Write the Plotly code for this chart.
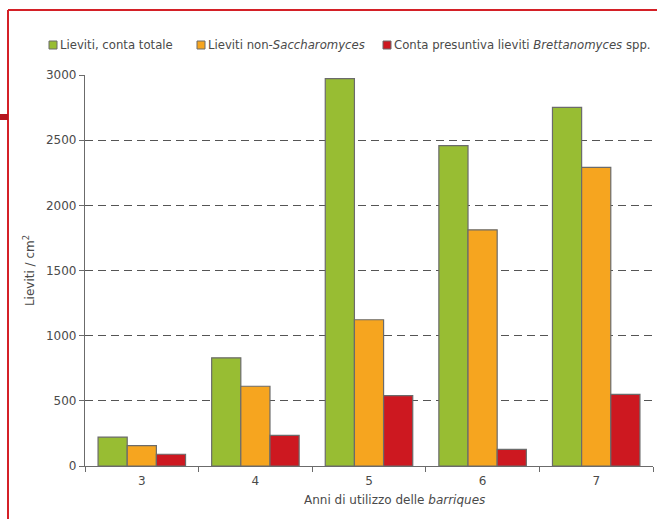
import plotly.graph_objects as go

categories = ["3", "4", "5", "6", "7"]
series_names = [
    "Lieviti, conta totale",
    "Lieviti non-<i>Saccharomyces</i>",
    "Conta presuntiva lieviti <i>Brettanomyces</i> spp.",
]
totale = [222, 830, 2972, 2458, 2752]
non_sacch = [157, 612, 1122, 1812, 2292]
brett = [90, 235, 540, 128, 550]
colors = ["#98BD33", "#F6A51F", "#CD1820"]
y_ticks = [0, 500, 1000, 1500, 2000, 2500, 3000]
x_title = "Anni di utilizzo delle <i>barriques</i>"
y_title = "Lieviti / cm<sup>2</sup>"

FONT = "DejaVu Sans, sans-serif"
FS = 12
LEG_FS = 11.7
TXT = "#4a4a4a"

fig = go.Figure()
for name, vals, col in zip(series_names, [totale, non_sacch, brett], colors):
    fig.add_trace(go.Bar(
        x=categories, y=vals, name=name,
        marker=dict(color=col, line=dict(color="#6b6b6b", width=1.2)),
        showlegend=False,
    ))

W, H = 657, 519
ml, mr, mt, mb = 85, 4, 75, 53
pw = W - ml - mr
ph = H - mt - mb

def px_x(x):
    return (x - ml) / pw

def px_y(y):
    return (H - mb - y) / ph

shapes = []
annotations = []
# red frame
shapes.append(dict(type="line", xref="paper", yref="paper",
                   x0=px_x(8), x1=px_x(8), y0=px_y(10), y1=px_y(560),
                   line=dict(color="#D42027", width=2)))
shapes.append(dict(type="line", xref="paper", yref="paper",
                   x0=px_x(8), x1=px_x(700), y0=px_y(10), y1=px_y(10),
                   line=dict(color="#D42027", width=2)))
shapes.append(dict(type="rect", xref="paper", yref="paper",
                   x0=px_x(0), x1=px_x(8), y0=px_y(114), y1=px_y(120),
                   fillcolor="#B5161E", line=dict(width=0)))

# manual legend
leg_x = [49, 197, 383]
for lx, name, col in zip(leg_x, series_names, colors):
    shapes.append(dict(type="rect", xref="paper", yref="paper",
                       x0=px_x(lx), x1=px_x(lx + 8), y0=px_y(41), y1=px_y(49),
                       fillcolor=col, line=dict(color="#6b6b6b", width=1)))
    annotations.append(dict(xref="paper", yref="paper", x=px_x(lx + 8.5), y=px_y(45),
                            text=name, showarrow=False, xanchor="left", yanchor="middle",
                            font=dict(family=FONT, size=LEG_FS, color=TXT)))

# x-axis title (slightly right of centre, as in the reference)
annotations.append(dict(xref="paper", yref="paper", x=px_x(394), y=px_y(500),
                        text=x_title, showarrow=False, xanchor="center", yanchor="middle",
                        font=dict(family=FONT, size=FS, color=TXT)))

fig.update_layout(
    width=W, height=H,
    margin=dict(l=ml, r=mr, t=mt, b=mb),
    paper_bgcolor="white", plot_bgcolor="white",
    barmode="group", bargap=0.23, bargroupgap=0,
    font=dict(family=FONT, size=FS, color=TXT),
    shapes=shapes, annotations=annotations,
    showlegend=False,
)
fig.update_xaxes(
    type="category", tickson="boundaries",
    showline=True, linecolor="#6b6b6b", linewidth=1.2,
    ticks="outside", ticklen=5, tickcolor="#6b6b6b",
    ticklabelstandoff=3,
    showgrid=False,
)
fig.update_yaxes(
    range=[0, 3000], tickvals=y_ticks,
    showline=True, linecolor="#6b6b6b", linewidth=1.2,
    ticks="outside", ticklen=5, tickcolor="#6b6b6b",
    showgrid=True, gridcolor="#555555", gridwidth=1, griddash="8px,5px",
    zeroline=False,
    title=dict(text=y_title, standoff=8,
               font=dict(family=FONT, size=FS, color=TXT)),
)

fig.write_html("out.html")
